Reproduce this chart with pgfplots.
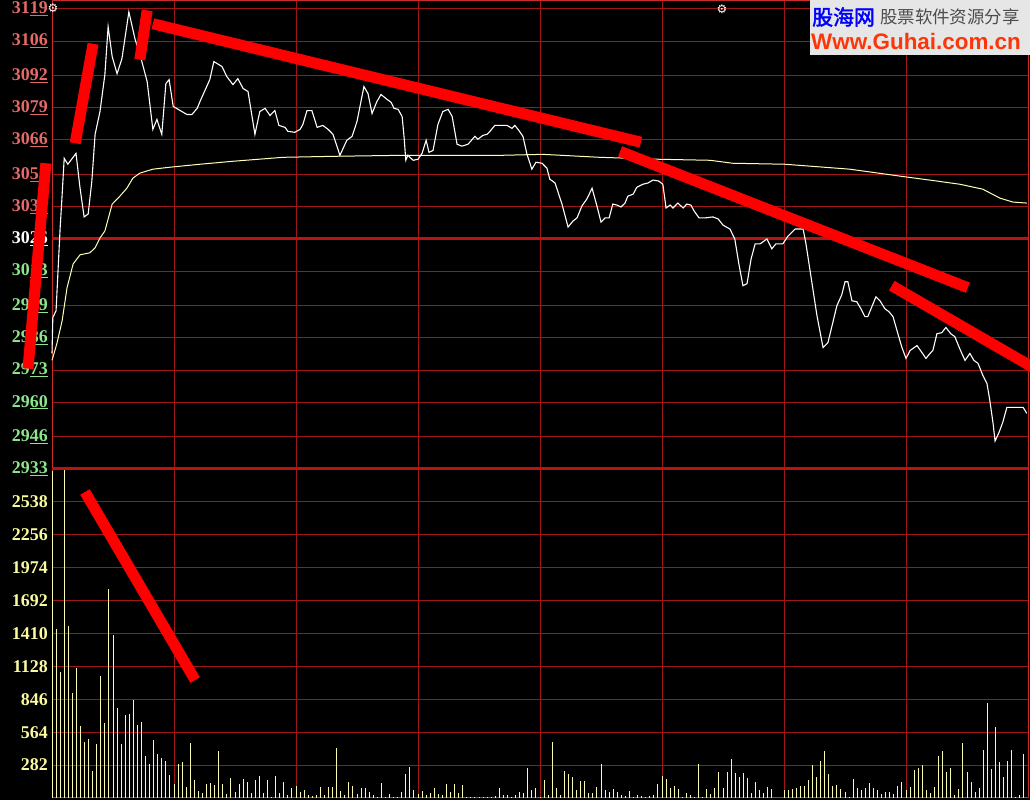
\documentclass[border=0pt]{standalone}
\usepackage{fontspec}
\setmainfont{Liberation Serif}
\newfontfamily\cjkb[FakeBold=2]{Noto Sans CJK SC}
\newfontfamily\cjk{Noto Sans CJK SC}
\newfontfamily\logofont{Liberation Sans}
\newfontfamily\symfont{DejaVu Sans}
\usepackage{pgfplots}
\pgfplotsset{compat=1.18}
\definecolor{gridred}{RGB}{160,22,22}
\definecolor{thickred}{RGB}{185,20,20}
\definecolor{framered}{RGB}{200,45,45}
\definecolor{up}{RGB}{228,105,105}
\definecolor{dn}{RGB}{140,228,140}
\definecolor{volyel}{RGB}{250,250,160}
\definecolor{barcol}{RGB}{250,250,175}
\definecolor{avgcol}{RGB}{255,255,185}
\definecolor{logobg}{RGB}{230,230,230}
\definecolor{logored}{RGB}{250,55,10}
\newcommand{\U}[1]{\underline{#1}}
\begin{document}
\begin{tikzpicture}[x=1bp,y=1bp]
\fill[black] (0,0) rectangle (1030,800);
\useasboundingbox (0,0) rectangle (1030,800);
\pgfplotsset{
  panel/.style={
    scale only axis, anchor=south west, width=976bp,
    xmin=0, xmax=240, xtick={0,30,...,240}, xticklabel=\empty,
    grid=major, major grid style={gridred, line width=1bp},
    axis line style={framered, line width=1bp},
    major tick length=0pt, clip=false,
    yticklabel style={font=\bfseries\fontsize{18}{18}\selectfont, anchor=east, inner sep=4bp},
  }
}
% volume panel
\begin{axis}[panel, at={(52bp,2bp)}, height=329bp, ymin=0, ymax=2820,
  ytick={282,564,846,1128,1410,1692,1974,2256,2538},
  yticklabels={282,564,846,1128,1410,1692,1974,2256,2538},
  yticklabel style={text=volyel}]
\addplot[ycomb, barcol, line width=1bp, mark=none] coordinates {
(0,2805)(1,1449)(2,1080)(3,2820)(4,1474)(5,902)(6,1111)(7,617)(8,483)(9,503)
(10,229)(11,463)(12,1046)(13,646)(14,1791)(15,1400)(16,771)(17,463)(18,711)(19,720)
(20,840)(21,626)(22,651)(23,360)(24,291)(25,497)(26,377)(27,343)(28,317)(29,197)
(30,120)(31,291)(32,309)(33,97)(34,471)(35,154)(36,60)(37,40)(38,120)(39,126)
(40,111)(41,403)(42,120)(43,31)(44,169)(45,54)(46,120)(47,163)(48,134)(49,40)
(50,154)(51,189)(52,46)(53,154)(54,6)(55,189)(56,40)(57,137)(58,26)(59,83)
(60,103)(61,54)(62,69)(63,26)(64,20)(65,26)(66,91)(67,26)(68,91)(69,97)
(70,426)(71,60)(72,26)(73,134)(74,103)(75,34)(76,83)(77,83)(78,54)(79,26)
(80,6)(81,126)(82,11)(83,34)(84,6)(85,6)(86,49)(87,206)(88,263)(89,69)
(90,34)(91,60)(92,26)(93,40)(94,89)(95,34)(96,26)(97,117)(98,54)(99,117)
(100,40)(101,111)(102,11)(103,6)(104,6)(105,6)(106,6)(107,11)(108,11)(109,17)
(110,83)(111,26)(112,26)(113,6)(114,26)(115,49)(116,40)(117,254)(118,69)(119,83)
(120,11)(121,154)(122,26)(123,480)(124,83)(125,26)(126,231)(127,203)(128,177)(129,69)
(130,146)(131,146)(132,40)(133,40)(134,91)(135,289)(136,69)(137,54)(138,74)(139,54)
(140,26)(141,17)(142,60)(143,11)(144,26)(145,17)(146,11)(147,17)(148,26)(149,117)
(150,189)(151,163)(152,83)(153,103)(154,74)(155,6)(156,40)(157,26)(158,6)(159,289)
(160,6)(161,74)(162,34)(163,83)(164,220)(165,83)(166,220)(167,331)(168,211)(169,177)
(170,211)(171,169)(172,40)(173,134)(174,69)(175,40)(176,91)(177,74)(178,0)(179,0)
(180,69)(181,69)(182,74)(183,83)(184,103)(185,103)(186,154)(187,283)(188,177)(189,317)
(190,403)(191,203)(192,103)(193,111)(194,74)(195,49)(196,11)(197,163)(198,83)(199,69)
(200,83)(201,126)(202,83)(203,69)(204,34)(205,49)(206,49)(207,34)(208,103)(209,137)
(210,69)(211,97)(212,240)(213,254)(214,283)(215,69)(216,40)(217,97)(218,360)(219,403)
(220,226)(221,254)(222,26)(223,74)(224,469)(225,220)(226,134)(227,54)(228,83)(229,411)
(230,817)(231,249)(232,606)(233,309)(234,177)(235,317)(236,411)(237,6)(238,26)(239,377)
};
\addplot[red, line width=11bp, mark=none] coordinates {(8.1,2623) (35.2,1011)};
\end{axis}
% price panel
\begin{axis}[panel, at={(52bp,331bp)}, height=468bp, ymin=2933, ymax=3122.2,
  ytick={2933,2946,2960,2973,2986,2999,3013,3026,3039,3052,3066,3079,3092,3106,3119},
  yticklabels={\textcolor{dn}{29\U{33}},\textcolor{dn}{29\U{46}},\textcolor{dn}{29\U{60}},
   \textcolor{dn}{29\U{73}},\textcolor{dn}{29\U{86}},\textcolor{dn}{29\U{99}},\textcolor{dn}{30\U{13}},
   \textcolor{white}{30\U{26}},\textcolor{up}{30\U{39}},\textcolor{up}{30\U{52}},\textcolor{up}{30\U{66}},
   \textcolor{up}{30\U{79}},\textcolor{up}{30\U{92}},\textcolor{up}{31\U{06}},\textcolor{up}{31\U{19}}}]
\addplot[thickred, line width=3bp, mark=none] coordinates {(0,3026) (240,3026)};
\addplot[thickred, line width=3bp, mark=none] coordinates {(0,2933) (240,2933)};
% average price line
\addplot[avgcol, line width=1bp, mark=none] coordinates {
(0,2976.9)(1.2,2983.7)(2.5,2993.0)(3.7,3006.3)(5.2,3015.9)(6.9,3019.6)(9.3,3020.4)(10.6,3022.4)
(11.8,3026.4)(13.0,3029.2)(14.8,3040.1)(16.7,3043.3)(18.4,3046.5)(19.9,3050.6)(21.6,3052.6)
(24.8,3054.2)(29.0,3055.0)(36.4,3056.2)(44.5,3057.4)(56.8,3059.0)(69.1,3059.4)(85.6,3059.8)
(110.2,3059.8)(120.7,3060.2)(134.7,3059.0)(149.5,3058.2)(161.8,3057.8)(167.4,3056.6)
(180.2,3056.2)(196.2,3054.2)(208.5,3051.4)(217.6,3049.4)(223.3,3048.1)(228.9,3046.1)
(233.1,3042.5)(236.3,3040.9)(239.7,3040.5)
};
% price line
\addplot[white, line width=1.1bp, mark=none] coordinates {
(0,2979.7)(0.2,2994.2)(1.0,2997.0)(2.0,3030.4)(2.4,3041.3)(3.0,3058.6)(3.9,3056.2)(5.9,3060.6)
(6.9,3046.5)(7.9,3034.9)(8.9,3036.1)(9.8,3049.4)(10.6,3068.3)(11.8,3077.5)(13.0,3092.4)
(13.8,3111.8)(14.8,3099.7)(16.0,3092.8)(17.2,3098.9)(18.9,3117.8)(20.4,3106.9)(22.1,3097.7)
(23.4,3089.6)(24.8,3070.3)(25.8,3074.3)(27.0,3068.3)(28.0,3088.8)(28.8,3090.4)(29.8,3079.6)
(31.0,3078.4)(33.2,3076.3)(34.4,3076.3)(35.7,3078.8)(36.4,3081.6)(38.8,3090.4)(39.8,3097.7)
(41.8,3095.7)(43.0,3091.6)(44.5,3088.4)(45.7,3090.8)(47.0,3086.8)(48.2,3085.6)(49.9,3068.3)
(51.1,3077.5)(52.4,3078.8)(53.6,3075.9)(54.8,3077.9)(55.8,3071.9)(57.3,3071.1)(58.0,3069.5)
(59.7,3069.1)(61.0,3070.3)(61.7,3072.3)(62.7,3077.9)(63.9,3077.9)(65.2,3071.1)(66.6,3071.9)
(67.9,3070.3)(69.1,3068.3)(70.8,3059.8)(72.5,3065.9)(73.8,3067.5)(75.0,3073.5)(76.7,3087.6)
(77.7,3084.8)(78.7,3076.7)(79.9,3081.6)(80.9,3084.4)(82.4,3082.4)(83.4,3081.2)(84.1,3078.8)
(85.1,3078.4)(86.1,3075.5)(86.6,3066.7)(87.0,3057.8)(87.5,3059.8)(88.8,3057.8)(90.0,3058.2)
(91.0,3060.6)(92.0,3065.9)(92.7,3061.0)(93.7,3061.8)(94.9,3072.3)(96.1,3077.5)(97.4,3078.4)
(98.4,3075.5)(99.6,3064.3)(100.8,3063.5)(102.3,3064.3)(104.0,3067.5)(104.7,3066.3)(106.0,3067.9)
(107.0,3068.3)(107.7,3069.5)(108.9,3071.9)(110.2,3071.9)(111.9,3071.9)(113.1,3070.7)(113.8,3071.9)
(114.6,3070.3)(115.8,3067.5)(116.8,3060.2)(118.0,3054.2)(119.0,3057.0)(120.5,3056.6)(121.7,3054.6)
(122.4,3050.2)(123.7,3048.6)(125.4,3040.1)(126.9,3030.8)(128.1,3033.2)(129.1,3034.5)(130.3,3039.3)
(131.5,3042.1)(132.8,3046.5)(134.0,3039.3)(135.0,3032.8)(136.0,3034.5)(137.0,3034.5)(137.9,3040.1)
(138.9,3039.7)(139.9,3038.9)(140.9,3040.5)(141.6,3043.3)(142.9,3044.1)(143.8,3046.9)(145.3,3048.1)
(146.5,3048.6)(147.8,3049.8)(149.2,3049.4)(150.2,3048.1)(151.0,3038.5)(152.0,3039.7)(152.7,3038.5)
(153.9,3040.5)(155.2,3038.5)(156.1,3040.1)(157.1,3039.7)(157.9,3037.3)(159.1,3034.5)(160.6,3034.5)
(162.5,3034.9)(163.8,3034.1)(165.0,3031.6)(166.7,3030.0)(167.9,3026.0)(168.9,3015.9)(169.9,3007.1)
(170.9,3007.9)(171.9,3017.9)(172.9,3024.0)(174.1,3024.0)(175.8,3026.0)(177.0,3022.0)(178.0,3024.0)
(179.7,3024.0)(181.0,3027.2)(182.7,3030.0)(184.7,3030.0)(185.4,3024.0)(186.9,3007.9)(188.1,2995.0)
(189.6,2982.1)(190.8,2984.1)(192.0,2992.2)(193.0,2999.0)(194.2,3003.4)(195.0,3008.7)(195.7,3008.7)
(196.7,3001.0)(197.9,3000.6)(198.9,2997.8)(199.9,2994.6)(200.6,2994.6)(201.9,2999.8)(202.6,3002.6)
(203.6,3001.0)(204.8,2997.8)(205.8,2996.6)(206.8,2994.6)(208.0,2987.7)(209.0,2982.1)(210.0,2977.7)
(211.0,2980.9)(212.7,2982.9)(213.9,2980.1)(214.9,2977.7)(215.9,2979.7)(216.6,2980.9)(217.6,2987.7)
(218.8,2988.1)(219.8,2990.2)(221.0,2987.7)(222.0,2986.5)(223.3,2981.3)(224.5,2976.9)(225.7,2979.7)
(226.7,2976.9)(227.7,2975.7)(228.9,2970.8)(229.9,2967.6)(230.6,2960.8)(231.4,2951.5)(231.9,2944.3)
(232.9,2947.9)(233.8,2951.9)(234.8,2957.9)(236.0,2957.9)(237.3,2957.9)(238.8,2957.9)(239.7,2955.5)
};
\end{axis}
% overlay: hand-drawn trend lines
\begin{axis}[at={(52bp,331bp)}, anchor=south west, scale only axis, width=976bp, height=468bp,
  xmin=0, xmax=240, ymin=2933, ymax=3122.2, hide axis, clip=false]
\addplot[red, line width=11bp, mark=none] coordinates {(-5.9,2973.6) (-1.5,3056.6)};
\addplot[red, line width=11bp, mark=none] coordinates {(5.7,3064.7) (10.1,3104.9)};
\addplot[red, line width=11bp, mark=none] coordinates {(21.6,3098.5) (23.4,3118.4)};
\addplot[red, line width=11bp, mark=none] coordinates {(24.8,3113.0) (144.8,3065.1)};
\addplot[red, line width=11bp, mark=none] coordinates {(139.7,3061.4) (225.2,3006.3)};
\addplot[red, line width=11bp, mark=none] coordinates {(206.5,3007.1) (241.7,2973.6)};
\end{axis}
% small icons
\node[text=white, font=\symfont\fontsize{12}{12}\selectfont, inner sep=0] at (53,792) {⚙};
\node[text=white, font=\symfont\fontsize{12}{12}\selectfont, inner sep=0] at (722,791) {⚙};
% logo
\fill[logobg] (810,745) rectangle (1030,800);
\node[anchor=west, text=blue, font=\cjkb\fontsize{21}{21}\selectfont, inner sep=0] at (812,783) {股海网};
\node[anchor=west, text={black!70}, font=\cjk\fontsize{17.5}{17.5}\selectfont, inner sep=0] at (880,783) {股票软件资源分享};
\node[anchor=west, text=logored, font=\logofont\bfseries\fontsize{22.5}{22.5}\selectfont, inner sep=0] at (811,759) {Www.Guhai.com.cn};
\end{tikzpicture}
\end{document}
